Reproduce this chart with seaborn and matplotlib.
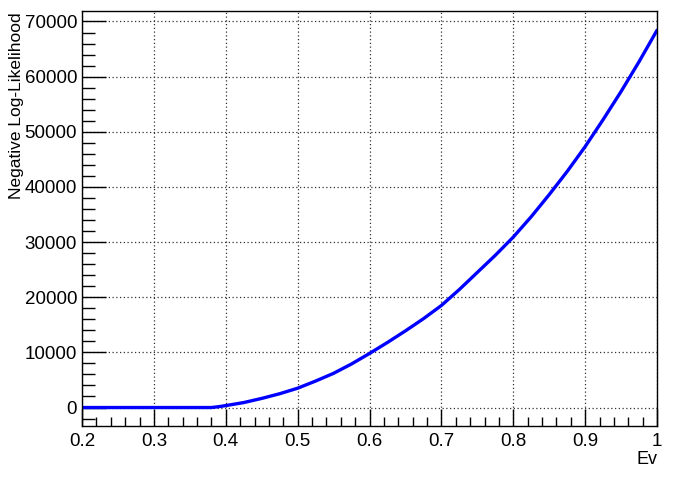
import numpy as np
import pandas as pd
import matplotlib
matplotlib.use("Agg")
import matplotlib.pyplot as plt
import seaborn as sns
from matplotlib.ticker import MultipleLocator


# -------------------------
# Data
# -------------------------
ev = [0.20, 0.25, 0.30, 0.35, 0.38, 0.39, 0.40, 0.425, 0.45, 0.475,
      0.50, 0.525, 0.55, 0.575, 0.60, 0.625, 0.65, 0.675, 0.70, 0.725,
      0.75, 0.775, 0.80, 0.825, 0.85, 0.875, 0.90, 0.925, 0.95, 0.975, 1.00]
nll = [0, 0, 0, 0, 0, 150, 350, 900, 1650, 2500,
       3500, 4800, 6200, 7900, 9800, 11800, 13900, 16100, 18500, 21400,
       24500, 27600, 30900, 34600, 38600, 42800, 47300, 52200, 57300, 62700, 68400]

x_ticklabels = ["0.2", "0.3", "0.4", "0.5", "0.6", "0.7", "0.8", "0.9", "1"]
x_label = "Ev"
y_label = "Negative Log-Likelihood"


# -------------------------
# Plot
# -------------------------
sns.set_style("white")
plt.rcParams["font.family"] = ["Liberation Sans", "DejaVu Sans"]
plt.rcParams["text.color"] = "black"
plt.rcParams["xtick.color"] = "black"
plt.rcParams["ytick.color"] = "black"

df = pd.DataFrame({"Ev": ev, "NLL": nll})

fig = plt.figure(figsize=(6.9, 4.78), dpi=100)
ax = fig.add_axes([82 / 690, 1 - 426 / 478, 575 / 690, 415 / 478])

sns.lineplot(data=df, x="Ev", y="NLL", ax=ax, color="#0000ff", linewidth=2.4)

ax.set_xlim(0.2, 1.0)
ax.set_ylim(-3350, 71900)

ax.xaxis.set_minor_locator(MultipleLocator(0.02))
ax.yaxis.set_major_locator(MultipleLocator(10000))
ax.yaxis.set_minor_locator(MultipleLocator(2000))

ax.set_xticks(np.linspace(0.2, 1.0, len(x_ticklabels)))
ax.set_xticklabels(x_ticklabels)

ax.tick_params(axis="x", which="major", direction="in", length=12.5, width=1,
               labelsize=13.5, pad=5, bottom=True, top=False, colors="black")
ax.tick_params(axis="x", which="minor", direction="in", length=6.5, width=1,
               bottom=True, top=False, colors="black")
ax.tick_params(axis="y", which="major", direction="in", length=17.5, width=1,
               labelsize=13.5, pad=3.5, left=True, right=False, colors="black")
ax.tick_params(axis="y", which="minor", direction="in", length=9, width=1,
               left=True, right=False, colors="black")

ax.grid(True, which="major", linestyle=(0, (1, 2)), color="#333333", linewidth=0.9)
ax.set_axisbelow(True)

for s in ax.spines.values():
    s.set_visible(True)
    s.set_color("black")
    s.set_linewidth(1)

ax.set_xlabel("")
ax.set_ylabel("")
fig.text(657 / 690, 1 - 460 / 478, x_label, ha="right", va="center", fontsize=13)
fig.text(17 / 690, 1 - 12 / 478, y_label, ha="center", va="top", rotation=90, fontsize=12.5)

fig.savefig("out.png", dpi=100)
plt.close(fig)
